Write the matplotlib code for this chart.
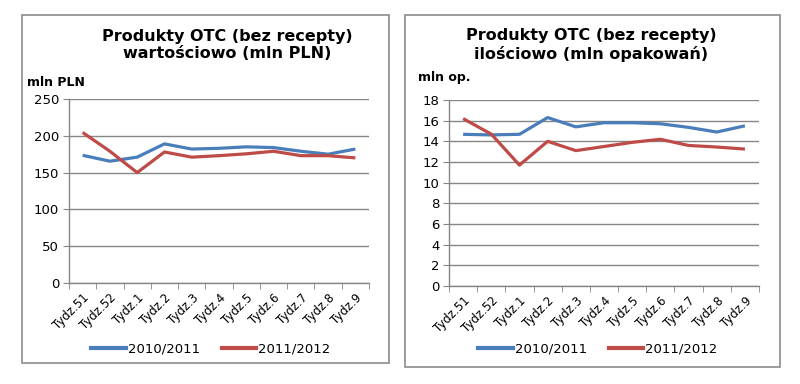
import numpy as np
import matplotlib.pyplot as plt
from matplotlib.patches import Rectangle
from matplotlib.lines import Line2D

weeks = ['Tydz.51', 'Tydz.52', 'Tydz.1', 'Tydz.2', 'Tydz.3', 'Tydz.4',
         'Tydz.5', 'Tydz.6', 'Tydz.7', 'Tydz.8', 'Tydz.9']
series_names = ['2010/2011', '2011/2012']

value_2010 = [173.5, 165.5, 171, 189, 182, 183, 185, 184, 179, 175, 182]
value_2011 = [204.5, 179, 150, 178, 171, 173, 175.5, 179, 173, 173, 170]

qty_2010 = [14.68, 14.62, 14.68, 16.3, 15.4, 15.8, 15.8, 15.7, 15.35, 14.9, 15.5]
qty_2011 = [16.2, 14.7, 11.7, 14.0, 13.1, 13.5, 13.9, 14.2, 13.6, 13.45, 13.25]

BLUE = '#4a7ebb'
RED = '#be4b48'
GRID = '#868686'

W, H = 800, 384
fig = plt.figure(figsize=(W / 100, H / 100), dpi=100)
fig.patch.set_facecolor('white')


def px_box(x0, y0, x1, y1):
    # pixel box (top-left origin) -> figure fraction rect
    return [x0 / W, 1 - y1 / H, (x1 - x0) / W, (y1 - y0) / H]


def draw_panel(frame, axbox, data, ylim, ystep, title, ylabel, ylabel_xy, title_x, legend_x):
    fx0, fy0, fx1, fy1 = frame
    fig.patches.append(Rectangle((fx0 / W, 1 - fy1 / H), (fx1 - fx0) / W, (fy1 - fy0) / H,
                                 transform=fig.transFigure, fill=False,
                                 edgecolor='#8c8c8c', linewidth=1.2))
    ax = fig.add_axes(px_box(*axbox))
    x = np.arange(len(weeks))
    ax.plot(x, data[0], color=BLUE, lw=2.3, solid_capstyle='butt', zorder=3)
    ax.plot(x, data[1], color=RED, lw=2.3, solid_capstyle='butt', zorder=3)
    ax.set_xlim(-0.5, len(weeks) - 0.5)
    ax.set_ylim(*ylim)
    ax.set_yticks(np.arange(ylim[0], ylim[1] + ystep / 2, ystep))
    ax.yaxis.grid(True, color=GRID, lw=1)
    ax.set_axisbelow(True)
    for s in ['top', 'right']:
        ax.spines[s].set_visible(False)
    for s in ['left', 'bottom']:
        ax.spines[s].set_color(GRID)
        ax.spines[s].set_linewidth(1)
    ax.set_xticks(x)
    ax.set_xticklabels(weeks, rotation=45, ha='right', va='top',
                       rotation_mode='anchor', fontsize=8.5)
    ax.set_xticks(np.arange(-0.5, len(weeks)), minor=True)
    ax.tick_params(axis='x', which='major', length=0, pad=6)
    ax.tick_params(axis='x', which='minor', length=4, color=GRID, direction='out')
    ax.tick_params(axis='y', length=4, color=GRID, labelsize=9.5, pad=3)
    fig.text(title_x / W, 1 - 45 / H, title, ha='center', va='center',
             fontsize=11.5, fontweight='bold', linespacing=1.25)
    fig.text(ylabel_xy[0] / W, 1 - ylabel_xy[1] / H, ylabel, ha='left', va='center',
             fontsize=9, fontweight='bold')
    handles = [Line2D([], [], color=BLUE, lw=3), Line2D([], [], color=RED, lw=3)]
    fig.legend(handles, series_names, loc='center', ncol=2, frameon=False,
               bbox_to_anchor=(legend_x / W, 1 - 349 / H), fontsize=9.5,
               handlelength=2.6, handletextpad=0.15, columnspacing=1.7)
    return ax


draw_panel((22, 15, 389, 363), (69, 99, 369, 283), (value_2010, value_2011),
           (0, 250), 50, 'Produkty OTC (bez recepty)\nwartościowo (mln PLN)',
           'mln PLN', (27, 82), 227, 211)
draw_panel((405, 15, 780, 367), (449, 100, 759, 286), (qty_2010, qty_2011),
           (0, 18), 2, 'Produkty OTC (bez recepty)\nilościowo (mln opakowań)',
           'mln op.', (418, 77), 591, 598)

fig.savefig('out.png', dpi=100)
